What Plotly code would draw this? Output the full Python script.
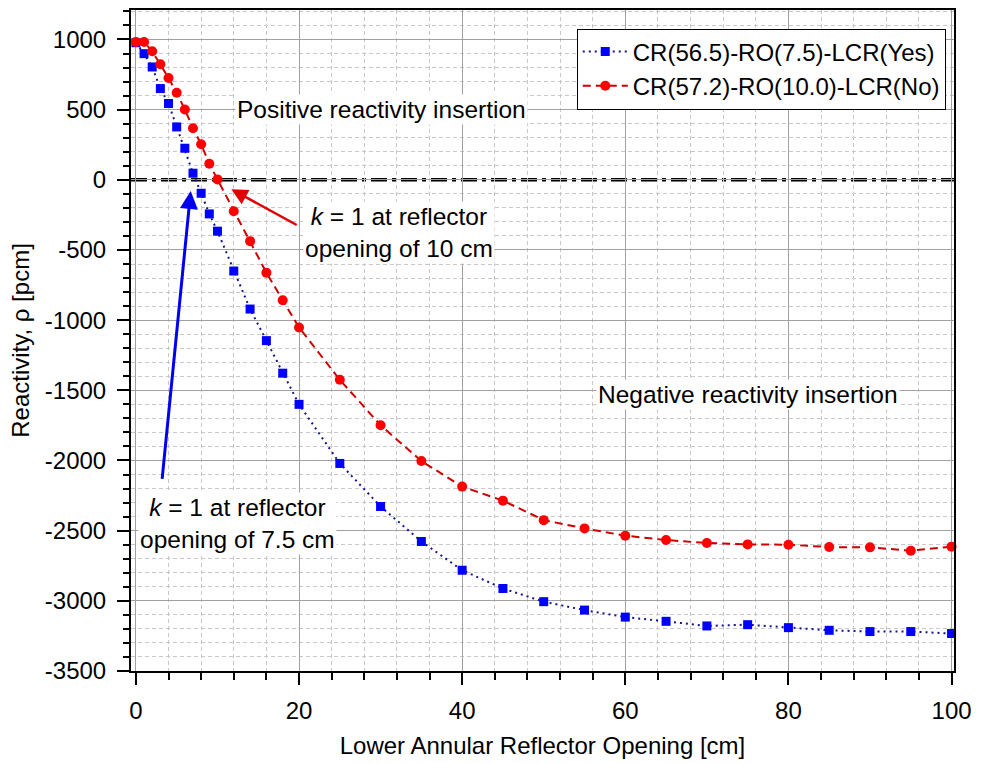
import plotly.graph_objects as go

# ---- data ----
x_blue = [0, 1, 2, 3, 4, 5, 6, 7, 8, 9, 10, 12, 14, 16, 18, 20, 25, 30, 35, 40,
          45, 50, 55, 60, 65, 70, 75, 80, 85, 90, 95, 100]
y_blue = [977, 899, 804, 650, 544, 377, 225, 47, -96, -243, -366, -650, -921, -1146,
          -1378, -1600, -2021, -2328, -2577, -2782, -2912, -3006, -3066, -3116,
          -3146, -3179, -3170, -3191, -3210, -3219, -3219, -3233]

x_red = [0, 1, 2, 3, 4, 5, 6, 7, 8, 9, 10, 12, 14, 16, 18, 20, 25, 30, 35, 40,
         45, 50, 55, 60, 65, 70, 75, 80, 85, 90, 95, 100]
y_red = [982, 982, 916, 823, 726, 620, 501, 367, 253, 114, 3, -224, -437, -662,
         -858, -1052, -1425, -1749, -2004, -2186, -2286, -2425, -2484, -2536,
         -2567, -2588, -2598, -2600, -2617, -2619, -2643, -2614]

name_blue = "CR(56.5)-RO(7.5)-LCR(Yes)"
name_red = "CR(57.2)-RO(10.0)-LCR(No)"

x_ticks = [0, 20, 40, 60, 80, 100]
x_ticktext = ["0", "20", "40", "60", "80", "100"]
y_ticks = [-3500, -3000, -2500, -2000, -1500, -1000, -500, 0, 500, 1000]
y_ticktext = ["-3500", "-3000", "-2500", "-2000", "-1500", "-1000", "-500", "0", "500", "1000"]

x_title = "Lower Annular Reflector Opening [cm]"
y_title = "Reactivity, ρ [pcm]"

FONT = "Arial, Liberation Sans, sans-serif"
FS = 24

fig = go.Figure()
fig.add_trace(go.Scatter(
    x=x_blue, y=y_blue, name=name_blue, mode="lines+markers",
    line=dict(color="#14148c", width=2, dash="2px,4px"),
    marker=dict(symbol="square", size=9, color="#0000ff"),
    cliponaxis=False,
))
fig.add_trace(go.Scatter(
    x=x_red, y=y_red, name=name_red, mode="lines+markers",
    line=dict(color="#cc0000", width=2, dash="8px,5px"),
    marker=dict(symbol="circle", size=10, color="#ff0000"),
    cliponaxis=False,
))

# k = 1 reference line
fig.add_shape(type="line", xref="paper", x0=0, x1=1, yref="y", y0=0, y1=0,
              line=dict(color="black", width=3.5, dash="16px,5px,4px,5px"),
              layer="between")

# arrows
fig.add_annotation(x=6.72, y=-79, ax=3.2, ay=-2142, axref="x", ayref="y",
                   xref="x", yref="y", text="", showarrow=True,
                   arrowhead=2, arrowsize=1.2, arrowwidth=3, arrowcolor="#0000ee")
fig.add_annotation(x=11.7, y=-67, ax=19.9, ay=-328, axref="x", ayref="y",
                   xref="x", yref="y", text="", showarrow=True,
                   arrowhead=2, arrowsize=1.3, arrowwidth=2.5, arrowcolor="#e00000")

txt_font = dict(family=FONT, size=24.5, color="black")
fig.add_annotation(x=30.1, y=500, text="Positive reactivity insertion", showarrow=False,
                   font=txt_font, bgcolor="white", borderpad=1)
fig.add_annotation(x=75, y=-1530, text="Negative reactivity insertion", showarrow=False,
                   font=txt_font, bgcolor="white", borderpad=1)
fig.add_annotation(x=32.3, y=-375, text="<i>k</i> = 1 at reflector<br>opening of 10 cm",
                   showarrow=False, font=txt_font, bgcolor="white", borderpad=1)
fig.add_annotation(x=12.4, y=-2450, text="<i>k</i> = 1 at reflector<br>opening of 7.5 cm",
                   showarrow=False, font=txt_font, bgcolor="white", borderpad=1)

axis_common = dict(
    showline=True, linecolor="black", linewidth=2, mirror=True,
    ticks="outside", ticklen=12, tickwidth=2, tickcolor="black",
    showgrid=True, gridcolor="#a0a0a0", gridwidth=1, zeroline=False,
    tickfont=dict(family=FONT, size=FS, color="black"),
)

fig.update_xaxes(
    range=[-0.6, 100.3], tickmode="array", tickvals=x_ticks, ticktext=x_ticktext,
    minor=dict(dtick=4, tick0=0, ticks="outside", ticklen=7, tickwidth=1.5, tickcolor="black",
               showgrid=True, gridcolor="#c8c8c8", griddash="4px,3px", gridwidth=1),
    title=dict(text=x_title, font=dict(family=FONT, size=FS, color="black"), standoff=14),
    ticklabelstandoff=5,
    **axis_common,
)
fig.update_yaxes(
    range=[-3500, 1210], tickmode="array", tickvals=y_ticks, ticktext=y_ticktext,
    minor=dict(dtick=100, tick0=0, ticks="outside", ticklen=6, tickwidth=1.5, tickcolor="black",
               showgrid=True, gridcolor="#c8c8c8", griddash="4px,3px", gridwidth=1),
    title=dict(text=y_title, font=dict(family=FONT, size=FS, color="black"), standoff=8),
    ticklabelstandoff=6,
    **axis_common,
)

fig.update_layout(
    width=984, height=763,
    margin=dict(l=131, r=30, t=8, b=92),
    plot_bgcolor="white", paper_bgcolor="white",
    font=dict(family=FONT, size=FS, color="black"),
    showlegend=True,
    legend=dict(x=0.990, y=0.972, xanchor="right", yanchor="top",
                bgcolor="white", bordercolor="black", borderwidth=1,
                font=dict(family=FONT, size=FS, color="black"),
                itemwidth=45, tracegroupgap=0),
)

fig.write_html("out.html")
